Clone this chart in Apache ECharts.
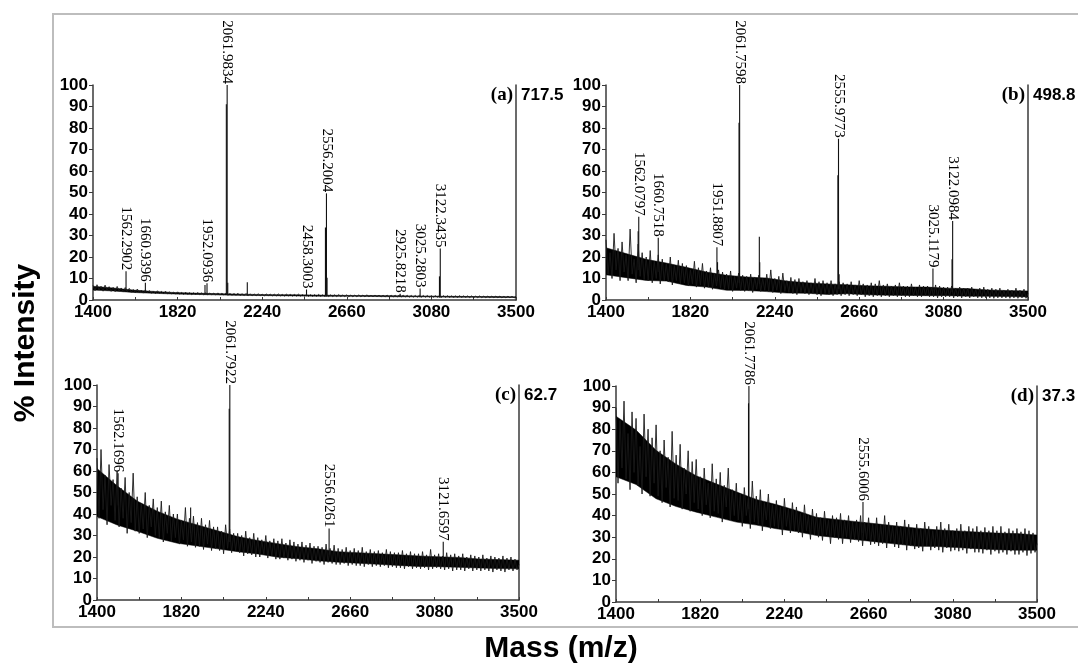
<!DOCTYPE html>
<html><head><meta charset="utf-8">
<script src="https://cdn.jsdelivr.net/npm/echarts@6/dist/echarts.min.js"></script>
<style>html,body{margin:0;padding:0;background:#fff}#c{width:1078px;height:665px}</style>
</head><body><div id="c"></div>
<script>
// ---- data ----
const masses = [
1400,1410,1420,1430,1440,1450,1460,1470,1480,1490,
1500,1510,1520,1530,1540,1550,1560,1570,1580,1590,
1600,1610,1620,1630,1640,1650,1660,1670,1680,1690,
1700,1710,1720,1730,1740,1750,1760,1770,1780,1790,
1800,1810,1820,1830,1840,1850,1860,1870,1880,1890,
1900,1910,1920,1930,1940,1950,1960,1970,1980,1990,
2000,2010,2020,2030,2040,2050,2060,2070,2080,2090,
2100,2110,2120,2130,2140,2150,2160,2170,2180,2190,
2200,2210,2220,2230,2240,2250,2260,2270,2280,2290,
2300,2310,2320,2330,2340,2350,2360,2370,2380,2390,
2400,2410,2420,2430,2440,2450,2460,2470,2480,2490,
2500,2510,2520,2530,2540,2550,2560,2570,2580,2590,
2600,2610,2620,2630,2640,2650,2660,2670,2680,2690,
2700,2710,2720,2730,2740,2750,2760,2770,2780,2790,
2800,2810,2820,2830,2840,2850,2860,2870,2880,2890,
2900,2910,2920,2930,2940,2950,2960,2970,2980,2990,
3000,3010,3020,3030,3040,3050,3060,3070,3080,3090,
3100,3110,3120,3130,3140,3150,3160,3170,3180,3190,
3200,3210,3220,3230,3240,3250,3260,3270,3280,3290,
3300,3310,3320,3330,3340,3350,3360,3370,3380,3390,
3400,3410,3420,3430,3440,3450,3460,3470,3480,3490,
3500];

const intensityA = [
6.8,4.3,7.1,4.6,6.4,4.1,6.9,4.4,6.2,4.0,
5.9,3.9,6.3,4.1,5.6,3.7,5.8,3.8,5.4,3.6,
4.9,3.4,5.1,3.5,4.6,3.2,4.7,3.3,4.4,3.1,
4.2,3.0,4.3,3.1,4.0,2.9,4.1,2.9,3.8,2.8,
3.7,2.7,3.8,2.7,3.5,2.6,3.6,2.6,3.4,2.5,
3.4,2.5,3.5,2.5,3.3,2.4,3.3,2.4,3.2,2.4,
3.2,2.3,3.3,2.3,3.1,2.3,3.1,2.2,3.0,2.2,
3.0,2.2,3.1,2.1,2.9,2.1,3.0,2.1,2.8,2.0,
2.8,2.0,2.9,2.0,2.7,1.9,2.8,2.0,2.7,1.9,
2.7,1.9,2.8,1.9,2.6,1.8,2.7,1.9,2.6,1.8,
2.6,1.8,2.7,1.8,2.5,1.8,2.6,1.7,2.5,1.7,
2.5,1.7,2.6,1.7,2.4,1.7,2.5,1.6,2.4,1.6,
2.4,1.6,2.5,1.6,2.3,1.6,2.4,1.5,2.3,1.5,
2.3,1.5,2.4,1.5,2.3,1.5,2.4,1.5,2.2,1.5,
2.3,1.5,2.3,1.4,2.2,1.4,2.3,1.4,2.2,1.4,
2.2,1.4,2.3,1.4,2.2,1.4,2.2,1.3,2.1,1.3,
2.1,1.3,2.2,1.3,2.1,1.3,2.1,1.3,2.0,1.3,
2.0,1.3,2.1,1.2,2.0,1.2,2.0,1.2,1.9,1.2,
1.9,1.2,2.0,1.2,1.9,1.2,1.9,1.1,1.9,1.1,
1.8,1.1,1.9,1.1,1.8,1.1,1.8,1.1,1.8,1.1,
1.8,1.1,1.8,1.0,1.7,1.0,1.8,1.0,1.7,1.0,
1.3];

const intensityB = [
28,12,22,10,31,14,24,9,27,13,
21,9,33,12,19,8,26,11,22,9.5,
20,9,23,8,18,10,21,7.5,19,9,
17,8.5,20,7,16,9,18.5,7.5,17,8,
16,6.5,14,7.5,18,6,15,7,17,5.5,
13.5,6,15,5,12.5,6.5,14,5.5,13,5,
12,5,13.5,4,11,5.5,12.5,4.5,11.5,4,
11,4.5,12,3.5,10.5,5,11.5,4,10,4.5,
12,4,14,3.5,10,4.5,11,3,12.5,4,
9,3.5,10.5,3,9.5,2.5,10,3.5,8.5,3,
9,2.5,8,3,10,2.5,8.5,2,9,3,
8,2.5,9,2,7.5,2.5,8.5,2,8,2.5,
7.5,2,8.5,2.5,7,2,9,2.5,7.5,1.5,
7,2,8,1.5,7.5,2,9,1.5,7,2,
7.5,1.5,6.5,2,7,1.5,8,2,6.5,1.5,
6.5,1.5,7.5,2,6,1.5,7,1.5,6.5,2,
6.5,1.5,6,1.5,7,1,6.5,1.5,6,1.5,
6,1.5,6.5,1,5.5,1.5,6,1,5.5,1.5,
5.5,1,6,1.5,5,1,5.5,1,6,1,
5,1,5.5,0.8,5,1,5.5,1,4.5,1,
5,0.8,4.5,1,5.5,0.8,4.5,1,5,0.8,
3];

const intensityC = [
66,38,70,42,58,35,63,44,56,37,
60,34,52,38,57,31,50,36,59,32,
48,31,45,33,50,29,44,34,47,30,
43,29,46,27,41,31,44,27.5,40,29,
40,26,37,28,43,25,38,27,39,24.5,
36,25,38,23.5,35,26,37,23,34,24,
34,23,32,21.5,35,24,33,22,31,23,
31,22,30,20.5,32,21.5,29,21,31,20,
29,20,28,21,30,19.5,27.5,20.5,28.5,19,
27.5,19,28.5,19.5,26.5,18.5,28,19,27,18,
26,18.5,27,17.5,25.5,18.5,26.5,17,25,18,
25,17.5,24.5,16.5,26,17.5,24,17,25.5,16.5,
24,16.5,23.5,17,24.5,16,23,16.5,24,16,
23,16,24.5,15.5,22.5,16.5,23.5,15.5,22.5,16,
23,15.5,22,16,23.5,15,22.5,15.5,22,15,
22,15,23,14.5,21.5,15.5,22.5,14.5,21.5,15,
21.5,14.5,22.5,15,21,14,23.5,14.5,21,15,
21.5,14.5,20.5,14,22,14.5,21,13.5,21.5,14,
20.5,14,21.5,13.5,20,14.5,21,13.5,20.5,14,
20,13.5,21,14,19.5,13.5,20.5,13,20,14,
19.5,13.5,20.5,13,19.5,14,20,13.5,19,14,
16.5];

const intensityD = [
90,55,84,62,93,57,78,52,88,60,
85,54,72,50,87,58,80,49,76,55,
82,49,70,46,75,53,67,44,79,48,
68,47,73,43,62,50,70,42,65,46,
66,43,58,40,62,45,55,39,64,42,
57,41,60,37,54,44,62,38,52,40,
55,38,50,35,53,40,48,34,56,37,
49,36,52,33,46,38,50,34,45,35,
47,34,44,31,48,35,43,32,46,33,
44,32,41,30,45,33,40,29,43,31,
41,30,39,28.5,42,31,38,27,40,30,
39,29,41,27,38,30,40,27.5,37,29,
38,28,40,26,37,29,39,26.5,36,27,
39,26,36,27,40,25,37,28,35,25.5,
37,25,35,26.5,38,24,36,26,34,24.5,
36,25,34,23.5,37,26,35,24,33,25,
35,24,37,23,34,25,36,23.5,33,24,
34,23.5,36,24,33,22.5,35,24.5,34,23,
35,23,33,22.5,34.5,24,33,22,35,23.5,
33,22.5,35,23,32.5,22,34,23.5,33,22,
34,22,32.5,23,34,21.5,33,22.5,32,23,
27];

// dense (solid black) core of the noise band, read every 100 Da
const coreMass = [1400,1500,1600,1700,1800,1900,2000,2100,2200,2300,2400,2500,2600,2700,2800,2900,3000,3100,3200,3300,3400,3500];
const coreLowA  = [4.6,4.2,3.5,3.1,2.8,2.6,2.4,2.2,2.1,2.0,1.9,1.8,1.7,1.7,1.6,1.5,1.5,1.4,1.3,1.3,1.2,1.2];
const coreHighA = [6.4,5.6,4.6,4.0,3.5,3.2,3.0,2.8,2.6,2.5,2.4,2.3,2.2,2.1,2.1,2.0,1.9,1.8,1.7,1.6,1.6,1.5];
const coreLowB  = [11.7,10.4,9.1,8.8,6.8,6.0,4.5,4.4,3.9,3.2,3.1,2.6,2.9,2.4,2.2,2.1,2.0,2.0,1.8,1.7,1.6,1.4];
const coreHighB = [24.3,21.6,18.9,17.2,15.2,13.0,11.5,10.7,10.2,8.8,8.0,7.5,7.1,6.6,6.4,6.1,6.0,5.5,5.3,4.7,4.4,4.2];
const coreLowC  = [38.8,34.9,32.0,28.7,26.4,25.1,23.8,22.5,21.4,19.9,19.2,18.2,17.6,17.1,16.6,16.1,15.6,15.5,15.2,14.9,14.6,14.5];
const coreHighC = [61.2,53.1,46.0,41.3,37.6,34.9,32.2,29.5,27.7,26.2,24.8,23.8,22.5,22.0,21.5,21.0,20.5,20.1,19.8,19.1,18.8,18.5];
const coreLowD  = [58.0,54.4,47.8,44.2,41.6,39.3,37.0,35.6,33.9,32.6,30.8,29.8,28.8,27.8,26.8,25.8,25.7,25.2,24.7,24.2,24.0,24.0];
const coreHighD = [86.0,79.6,70.2,63.8,58.4,54.7,51.0,47.5,45.1,42.4,39.2,38.2,37.2,36.2,35.2,34.2,33.4,32.9,32.4,31.9,31.7,31.0];

// peaks: mass, top intensity, baseline intensity under the peak, label
const peakMassA   = [1564, 1660, 1956, 1966, 2062, 2066, 2069, 2166, 2460, 2554, 2559, 2562, 2925, 3024, 3120, 3124];
const peakHeightA = [13.4, 8.0, 7.0, 7.8, 91, 100, 8, 8.3, 4.9, 33.7, 49.6, 10.3, 2.9, 5.4, 11, 23.9];
const peakBaseA   = [4.0, 3.3, 2.5, 2.5, 2.3, 2.3, 2.3, 2.1, 1.8, 1.7, 1.7, 1.7, 1.4, 1.3, 1.2, 1.2];
const peakLabelA  = ['1562.2902','1660.9396','','1952.0936','','2061.9834','','','2458.3003','','2556.2004','','2925.8218','3025.2803','','3122.3435'];

const peakMassB   = [1560, 1563, 1660, 1952, 1955, 2062, 2065, 2163, 2165, 2554, 2557, 2560, 3027, 3122, 3125];
const peakHeightB = [32, 38.7, 29, 24.5, 17.6, 82.5, 100, 29.4, 17.6, 58, 75, 12, 14.6, 19, 36.8];
const peakBaseB   = [14, 14, 13, 9, 9, 8, 8, 7.5, 7.5, 5, 5, 5, 4, 3.7, 3.7];
const peakLabelB  = ['','1562.0797','1660.7518','1951.8807','','','2061.7598','','','','2555.9773','','3025.1179','','3122.0984'];

const peakMassC   = [1505, 1866, 2058, 2061, 2555, 3123];
const peakHeightC = [59, 43, 89, 100, 33.2, 27.1];
const peakBaseC   = [44, 31, 27, 27, 21, 18];
const peakLabelC  = ['1562.1696','','','2061.7922','2556.0261','3121.6597'];

const peakMassD   = [2061, 2063, 2632];
const peakHeightD = [92, 100, 46.3];
const peakBaseD   = [43, 43, 32];
const peakLabelD  = ['','2061.7786','2555.6006'];

const xTickLabels = [1400, 1820, 2240, 2660, 3080, 3500];
const xTickMarks  = [1400, 1610, 1820, 2030, 2240, 2450, 2660, 2870, 3080, 3290, 3500];
const panelTags   = ['(a)', '(b)', '(c)', '(d)'];
const panelMaxAbs = ['717.5', '498.8', '62.7', '37.3'];
const yAxisTitle  = '% Intensity';
const xAxisTitle  = 'Mass (m/z)';

// ---- layout ----
const grids = [
  {left: 93,  top: 85,  width: 423, height: 215},
  {left: 606, top: 85,  width: 422, height: 215},
  {left: 97,  top: 385, width: 422, height: 215},
  {left: 616, top: 386, width: 421, height: 216}
];
const spectra = [intensityA, intensityB, intensityC, intensityD];
const cores = [[coreLowA, coreHighA], [coreLowB, coreHighB], [coreLowC, coreHighC], [coreLowD, coreHighD]];
const peaks = [
  [peakMassA, peakHeightA, peakBaseA, peakLabelA],
  [peakMassB, peakHeightB, peakBaseB, peakLabelB],
  [peakMassC, peakHeightC, peakBaseC, peakLabelC],
  [peakMassD, peakHeightD, peakBaseD, peakLabelD]
];

const SANS = '"Liberation Sans", Arial, sans-serif';
const SERIF = '"Liberation Serif", "Times New Roman", serif';
const AX = '#3a3a3a';

function makePeakRender(labels) {
  return function (params, api) {
    const m = api.value(0), h = api.value(1), b = api.value(2);
    const p1 = api.coord([m, h]), p0 = api.coord([m, b]);
    const children = [{
      type: 'line',
      shape: {x1: p0[0], y1: p0[1], x2: p1[0], y2: p1[1]},
      style: {stroke: '#111', lineWidth: 1.1}
    }];
    const t = labels[params.dataIndex];
    if (t) {
      children.push({
        type: 'text', x: p1[0], y: p1[1] - 1, rotation: -Math.PI / 2,
        style: {text: t, fill: '#000', fontSize: 15, fontFamily: SERIF,
                align: 'right', verticalAlign: 'middle'}
      });
    }
    return {type: 'group', children};
  };
}

function makeCoreRender(low, high) {
  return function (params, api) {
    const pts = [];
    for (let k = 0; k < coreMass.length; k++) pts.push(api.coord([coreMass[k], high[k]]));
    for (let k = coreMass.length - 1; k >= 0; k--) pts.push(api.coord([coreMass[k], low[k]]));
    return {type: 'polygon', shape: {points: pts}, style: {fill: '#000', stroke: '#000', lineWidth: 0.5}};
  };
}

const option = {
  animation: false,
  backgroundColor: '#fff',
  grid: grids.map(g => Object.assign({containLabel: false}, g)),
  xAxis: grids.map((g, i) => ({
    gridIndex: i, type: 'value', min: 1400, max: 3500,
    axisLine: {show: true, onZero: false, lineStyle: {color: AX, width: 1.5}},
    axisTick: {show: true, inside: true, length: 3, customValues: xTickMarks, lineStyle: {color: AX, width: 1}},
    axisLabel: {customValues: xTickLabels, formatter: v => String(v), fontSize: 17, fontWeight: 'bold', fontFamily: SANS, color: '#000', margin: 4},
    splitLine: {show: false}
  })),
  yAxis: [].concat(...grids.map((g, i) => [
    {
      gridIndex: i, type: 'value', min: 0, max: 100, interval: 10,
      axisLine: {show: true, lineStyle: {color: AX, width: 1.5}},
      axisTick: {show: true, inside: false, length: 4, lineStyle: {color: AX, width: 1}},
      axisLabel: {fontSize: 17, fontWeight: 'bold', fontFamily: SANS, color: '#000', margin: 5},
      splitLine: {show: false}
    },
    {
      gridIndex: i, type: 'value', position: 'right', min: 0, max: 100,
      axisLine: {show: true, lineStyle: {color: AX, width: 1.5}},
      axisTick: {show: false}, axisLabel: {show: false}, splitLine: {show: false}
    }
  ])),
  series: [].concat(...grids.map((g, i) => [
    {
      type: 'custom', xAxisIndex: i, yAxisIndex: 2 * i, silent: true, clip: true,
      data: [[coreMass[0], cores[i][0][0]]],
      renderItem: makeCoreRender(cores[i][0], cores[i][1])
    },
    {
      type: 'line', xAxisIndex: i, yAxisIndex: 2 * i,
      data: masses.map((m, k) => [m, spectra[i][k]]),
      showSymbol: false, symbol: 'none', silent: true,
      lineStyle: {color: '#1a1a1a', width: 0.9}
    },
    {
      type: 'custom', xAxisIndex: i, yAxisIndex: 2 * i, silent: true,
      data: peaks[i][0].map((m, k) => [m, peaks[i][1][k], peaks[i][2][k]]),
      renderItem: makePeakRender(peaks[i][3])
    }
  ])),
  graphic: [
    {type: 'rect', shape: {x: 53, y: 14, width: 1040, height: 613},
     style: {fill: 'none', stroke: '#bdbdbd', lineWidth: 2}, z: 1},
    {type: 'text', x: 26, y: 343, rotation: Math.PI / 2,
     style: {text: yAxisTitle, fontSize: 30, fontWeight: 'bold', fontFamily: SANS, fill: '#000', align: 'center', verticalAlign: 'middle'}},
    {type: 'text', x: 561, y: 649,
     style: {text: xAxisTitle, fontSize: 30, fontWeight: 'bold', fontFamily: SANS, fill: '#000', align: 'center', verticalAlign: 'middle'}}
  ].concat(...grids.map((g, i) => [
    {type: 'text', x: g.left + g.width - 3, y: g.top + 10,
     style: {text: panelTags[i], fontSize: 19, fontWeight: 'bold', fontFamily: SERIF, fill: '#000', align: 'right', verticalAlign: 'middle'}},
    {type: 'text', x: g.left + g.width + 5, y: g.top + 10,
     style: {text: panelMaxAbs[i], fontSize: 17, fontWeight: 'bold', fontFamily: SANS, fill: '#000', align: 'left', verticalAlign: 'middle'}}
  ]))
};

const chart = echarts.init(document.getElementById('c'), null, {renderer: 'canvas'});
chart.setOption(option);
</script>
</body></html>
